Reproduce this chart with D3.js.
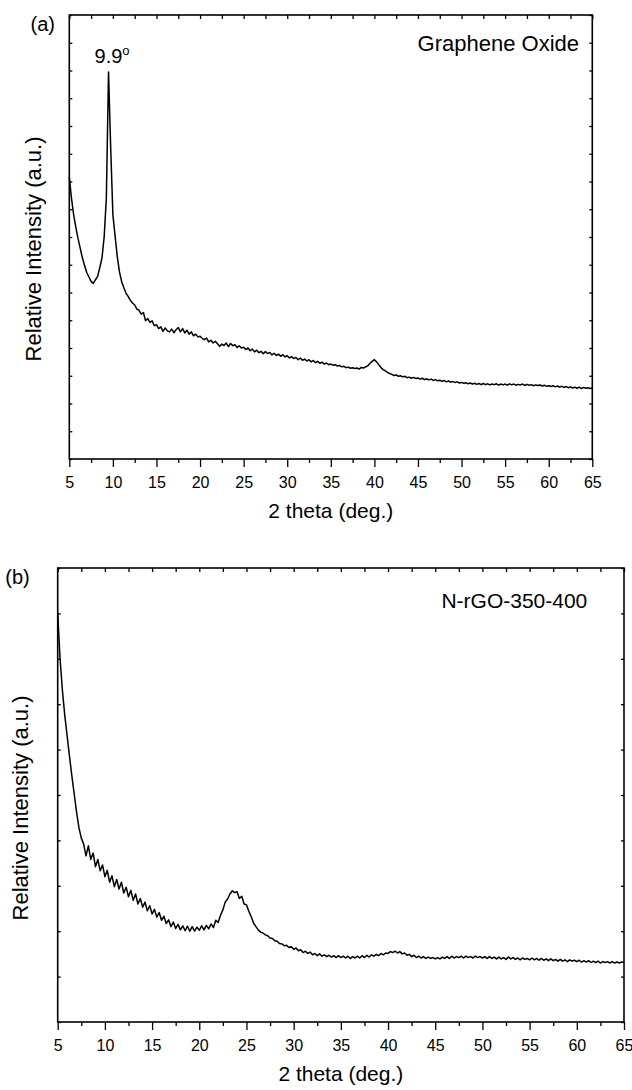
<!DOCTYPE html>
<html>
<head>
<meta charset="utf-8">
<script src="https://cdn.jsdelivr.net/npm/d3@7"></script>
<style>
body{margin:0;background:#fff}
text{font-family:"Liberation Sans",Arial,sans-serif;fill:#000}
</style>
</head>
<body>
<script>
// XRD scans: 2theta from 5 to 65 deg every 0.25 deg
const thetaStart=5
const thetaStep=0.25

// (a) graphene oxide, arbitrary units (0..16 = frame height)
const goIntensity=[
 10.16,9.40,8.80,8.35,7.95,7.60,7.25,6.97,6.72,6.56,6.40,6.33,6.46,6.58,6.90,7.25,8.00,9.40,13.95,11.20,
 8.80,8.05,7.30,6.75,6.40,6.18,5.98,5.86,5.72,5.62,5.55,5.40,5.36,5.22,5.28,4.98,5.06,4.92,4.98,4.80,
 4.84,4.70,4.76,4.60,4.72,4.62,4.58,4.68,4.55,4.66,4.74,4.58,4.70,4.54,4.64,4.50,4.58,4.44,4.50,4.40,
 4.42,4.35,4.30,4.36,4.22,4.28,4.18,4.24,4.15,4.06,4.14,4.09,4.18,4.05,4.16,4.08,4.12,4.02,4.08,4.00,
 4.03,3.95,4.00,3.90,3.96,3.86,3.92,3.83,3.88,3.79,3.87,3.80,3.84,3.75,3.81,3.73,3.78,3.70,3.76,3.68,
 3.72,3.64,3.69,3.62,3.66,3.58,3.64,3.56,3.60,3.53,3.58,3.50,3.55,3.47,3.52,3.45,3.49,3.42,3.46,3.40,
 3.42,3.38,3.40,3.35,3.37,3.32,3.34,3.29,3.31,3.27,3.29,3.26,3.28,3.24,3.30,3.28,3.32,3.36,3.45,3.52,
 3.58,3.50,3.40,3.30,3.22,3.18,3.12,3.08,3.05,3.01,3.03,2.98,3.00,2.96,2.98,2.93,2.95,2.91,2.94,2.90,
 2.92,2.88,2.91,2.86,2.89,2.85,2.88,2.83,2.86,2.82,2.84,2.80,2.83,2.78,2.81,2.77,2.79,2.76,2.78,2.74,
 2.76,2.73,2.75,2.71,2.74,2.70,2.73,2.69,2.72,2.68,2.72,2.68,2.71,2.67,2.70,2.68,2.71,2.66,2.70,2.67,
 2.70,2.66,2.71,2.67,2.70,2.66,2.69,2.67,2.70,2.65,2.69,2.66,2.68,2.64,2.67,2.65,2.67,2.63,2.66,2.62,
 2.64,2.61,2.64,2.60,2.63,2.59,2.62,2.58,2.61,2.57,2.60,2.56,2.59,2.55,2.59,2.54,2.58,2.55,2.57,2.54,
 2.56]

// (b) N-rGO-350-400, arbitrary units (0..10 = frame height)
const nrgoIntensity=[
 9.00,8.00,7.30,6.75,6.30,5.85,5.42,5.02,4.62,4.28,4.05,3.92,3.66,3.88,3.58,3.72,3.42,3.58,3.33,3.46,
 3.20,3.34,3.08,3.22,2.98,3.14,2.93,3.08,2.84,2.97,2.76,2.90,2.68,2.82,2.60,2.72,2.53,2.64,2.45,2.56,
 2.38,2.48,2.31,2.41,2.24,2.33,2.17,2.25,2.10,2.20,2.06,2.15,2.03,2.12,2.01,2.11,2.00,2.10,2.00,2.09,
 2.02,2.12,2.03,2.13,2.05,2.16,2.08,2.24,2.19,2.35,2.47,2.64,2.71,2.82,2.89,2.85,2.87,2.72,2.77,2.60,
 2.58,2.44,2.32,2.18,2.10,2.03,1.98,1.96,1.92,1.90,1.85,1.84,1.79,1.78,1.73,1.72,1.68,1.69,1.64,1.66,
 1.60,1.63,1.57,1.59,1.53,1.56,1.51,1.54,1.48,1.51,1.46,1.50,1.45,1.48,1.44,1.47,1.43,1.46,1.42,1.46,
 1.42,1.45,1.41,1.45,1.40,1.44,1.41,1.45,1.41,1.46,1.42,1.47,1.43,1.48,1.45,1.49,1.46,1.51,1.48,1.52,
 1.51,1.55,1.53,1.56,1.52,1.55,1.50,1.52,1.47,1.49,1.44,1.47,1.42,1.45,1.41,1.44,1.40,1.43,1.40,1.42,
 1.39,1.42,1.39,1.43,1.40,1.44,1.40,1.45,1.41,1.44,1.42,1.45,1.41,1.45,1.42,1.44,1.41,1.45,1.42,1.44,
 1.41,1.44,1.40,1.44,1.40,1.43,1.39,1.43,1.39,1.42,1.38,1.43,1.39,1.42,1.38,1.41,1.37,1.41,1.38,1.40,
 1.37,1.41,1.37,1.40,1.36,1.40,1.36,1.39,1.35,1.39,1.35,1.38,1.34,1.38,1.34,1.37,1.33,1.37,1.34,1.36,
 1.33,1.36,1.32,1.35,1.32,1.35,1.31,1.34,1.31,1.34,1.30,1.33,1.31,1.33,1.30,1.33,1.30,1.32,1.30,1.32,
 1.31]

const xMajor=[5,10,15,20,25,30,35,40,45,50,55,60,65]
const xMinor=[7.5,12.5,17.5,22.5,27.5,32.5,37.5,42.5,47.5,52.5,57.5,62.5]
const xAll=[5,7.5,10,12.5,15,17.5,20,22.5,25,27.5,30,32.5,35,37.5,40,42.5,45,47.5,50,52.5,55,57.5,60,62.5,65]

const svg=d3.select("body")
            .append("svg")
            .attr("width",632)
            .attr("height",1090)

function panel(opt){
    const g=svg.append("g")
               .attr("transform","translate("+opt.left+","+opt.top+")")

    const x=d3.scaleLinear().domain([5,65]).range([0,opt.w])
    const y=d3.scaleLinear().domain([0,opt.ymax]).range([opt.h,0])

    const line=d3.line()
                 .x((d,i)=>x(thetaStart+i*thetaStep))
                 .y(d=>y(d))

    g.append("path")
     .datum(opt.data)
     .attr("d",line)
     .attr("fill","none")
     .attr("stroke","#000")
     .attr("stroke-width",1.5)
     .attr("stroke-linejoin","round")

    // bottom: long labelled ticks + short ones
    g.append("g")
     .attr("transform","translate(0,"+opt.h+")")
     .call(d3.axisBottom(x).tickValues(xMajor).tickSize(8).tickSizeOuter(0).tickPadding(9.5))
    g.append("g")
     .attr("transform","translate(0,"+opt.h+")")
     .call(d3.axisBottom(x).tickValues(xMinor).tickSize(4).tickSizeOuter(0).tickFormat(""))
    g.append("g")
     .call(d3.axisTop(x).tickValues(xAll).tickSize(-4).tickSizeOuter(0).tickFormat(""))

    const yt=d3.range(0,opt.ymax+1)
    g.append("g")
     .call(d3.axisLeft(y).tickValues(yt).tickSize(-3).tickSizeOuter(0).tickFormat(""))
    g.append("g")
     .attr("transform","translate("+opt.w+",0)")
     .call(d3.axisRight(y).tickValues(yt).tickSize(-3).tickSizeOuter(0).tickFormat(""))

    g.selectAll(".domain").remove()
    g.selectAll(".tick line").attr("stroke","#000").attr("stroke-width",1.3)
    g.selectAll(".tick text").attr("font-size","16px").attr("font-family","Liberation Sans, Arial, sans-serif").attr("fill","#000")

    g.append("rect")
     .attr("width",opt.w)
     .attr("height",opt.h)
     .attr("fill","none")
     .attr("stroke","#000")
     .attr("stroke-width",1.6)

    g.append("text")
     .attr("x",opt.w/2)
     .attr("y",opt.h+59)
     .attr("text-anchor","middle")
     .attr("font-size","21px")
     .text("2 theta (deg.)")

    g.append("text")
     .attr("transform","translate("+opt.ylabX+","+opt.ylabY+") rotate(-90)")
     .attr("text-anchor","middle")
     .attr("font-size","22px")
     .text("Relative Intensity (a.u.)")

    g.append("text")
     .attr("x",opt.tagX)
     .attr("y",opt.tagY)
     .attr("text-anchor","middle")
     .attr("font-size","20px")
     .text(opt.tag)

    g.append("text")
     .attr("x",opt.nameX)
     .attr("y",opt.nameY)
     .attr("text-anchor","end")
     .attr("font-size",opt.nameSize)
     .text(opt.name)

    return {g,x,y}
}

const a=panel({left:69.3,top:15,w:523,h:444,ymax:16,data:goIntensity,
               ylabX:-28.3,ylabY:234,tag:"(a)",tagX:-26.6,tagY:16,
               name:"Graphene Oxide",nameX:509.7,nameY:35.5,nameSize:"22px"})

const b=panel({left:57.7,top:568,w:566.3,h:454,ymax:10,data:nrgoIntensity,
               ylabX:-29.3,ylabY:240,tag:"(b)",tagX:-40.2,tagY:16,
               name:"N-rGO-350-400",nameX:529.6,nameY:40,nameSize:"21px"})

// peak label
const pk=a.g.append("text")
           .attr("x",a.x(9.5)-14)
           .attr("y",48)
           .attr("font-size","20px")
pk.append("tspan").text("9.9")
pk.append("tspan").attr("font-size","13px").attr("dy","-8").text("o")
</script>
</body>
</html>
